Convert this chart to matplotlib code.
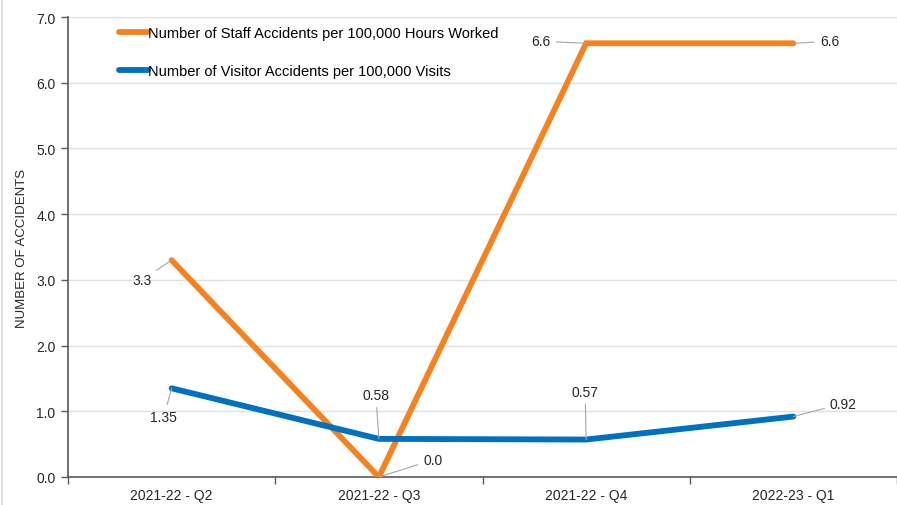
import matplotlib
matplotlib.use("Agg")
import matplotlib.pyplot as plt
from matplotlib.lines import Line2D

categories = ["2021-22 - Q2", "2021-22 - Q3", "2021-22 - Q4", "2022-23 - Q1"]
staff = [3.3, 0.0, 6.6, 6.6]
visitor = [1.35, 0.58, 0.57, 0.92]
staff_labels = ["3.3", "0.0", "6.6", "6.6"]
visitor_labels = ["1.35", "0.58", "0.57", "0.92"]
staff_name = "Number of Staff Accidents per 100,000 Hours Worked"
visitor_name = "Number of Visitor Accidents per 100,000 Visits"

plt.rcParams['font.family'] = ['Liberation Sans', 'DejaVu Sans']

fig = plt.figure(figsize=(8.97, 5.06), dpi=100)
ax = fig.add_axes([68/897, 28/506, 1 - 68/897, 460/506])

orange = "#F58220"
blue = "#0070C0"
x = list(range(len(categories)))
ax.plot(x, staff, color=orange, lw=4.2, solid_capstyle='round', solid_joinstyle='miter', label=staff_name, zorder=3)
ax.plot(x, visitor, color=blue, lw=4.2, solid_capstyle='round', solid_joinstyle='miter', label=visitor_name, zorder=3)

ax.set_xlim(-0.5, 3.5)
ax.set_ylim(0, 7)
ax.set_yticks([0, 1, 2, 3, 4, 5, 6, 7])
ax.set_yticklabels([f"{v:.1f}" for v in range(8)])
ax.set_xticks(x)
ax.set_xticklabels(categories)
ax.set_xticks([-0.5, 0.5, 1.5, 2.5, 3.5], minor=True)
ax.tick_params(axis='x', which='major', length=0, pad=8, labelsize=10, colors='#262626')
ax.tick_params(axis='x', which='minor', length=5, width=1, color='#595959')
ax.tick_params(axis='y', length=5, width=1, color='#595959', labelsize=10, labelcolor='#262626', pad=4)

ax.grid(axis='y', color='#E0E0E0', lw=1, zorder=0)
ax.set_axisbelow(True)
for s in ['top', 'right']:
    ax.spines[s].set_visible(False)
for s in ['left', 'bottom']:
    ax.spines[s].set_color('#595959')
    ax.spines[s].set_linewidth(1.2)

ax.set_ylabel("NUMBER OF ACCIDENTS", fontsize=9.5, color='#262626', labelpad=6)

def lab(xi, yi, text, dx, dy, ha='center'):
    ax.annotate(text, xy=(xi, yi), xytext=(dx, dy), textcoords='offset pixels',
                ha=ha, va='center', fontsize=10, color='#262626',
                arrowprops=dict(arrowstyle='-', color='#A6A6A6', lw=0.8,
                                shrinkA=2, shrinkB=0), zorder=4)

lab(0, staff[0], staff_labels[0], -30, -20)
lab(1, staff[1], staff_labels[1], 54, 17)
lab(2, staff[2], staff_labels[2], -45, 2)
lab(3, staff[3], staff_labels[3], 36, 2)
lab(0, visitor[0], visitor_labels[0], -8, -29)
lab(1, visitor[1], visitor_labels[1], -3, 44)
lab(2, visitor[2], visitor_labels[2], -1, 48)
lab(3, visitor[3], visitor_labels[3], 50, 13)

ax.legend(loc='upper left', bbox_to_anchor=(0.05, 1.0), frameon=False, fontsize=10.5,
          handlelength=2.0, handletextpad=0.0, labelspacing=1.6, borderaxespad=0.25)

fig.add_artist(Line2D([1.5/897, 1.5/897], [0, 1], transform=fig.transFigure, color='#D9D9D9', lw=1.2))

fig.savefig("out.png", dpi=100)
